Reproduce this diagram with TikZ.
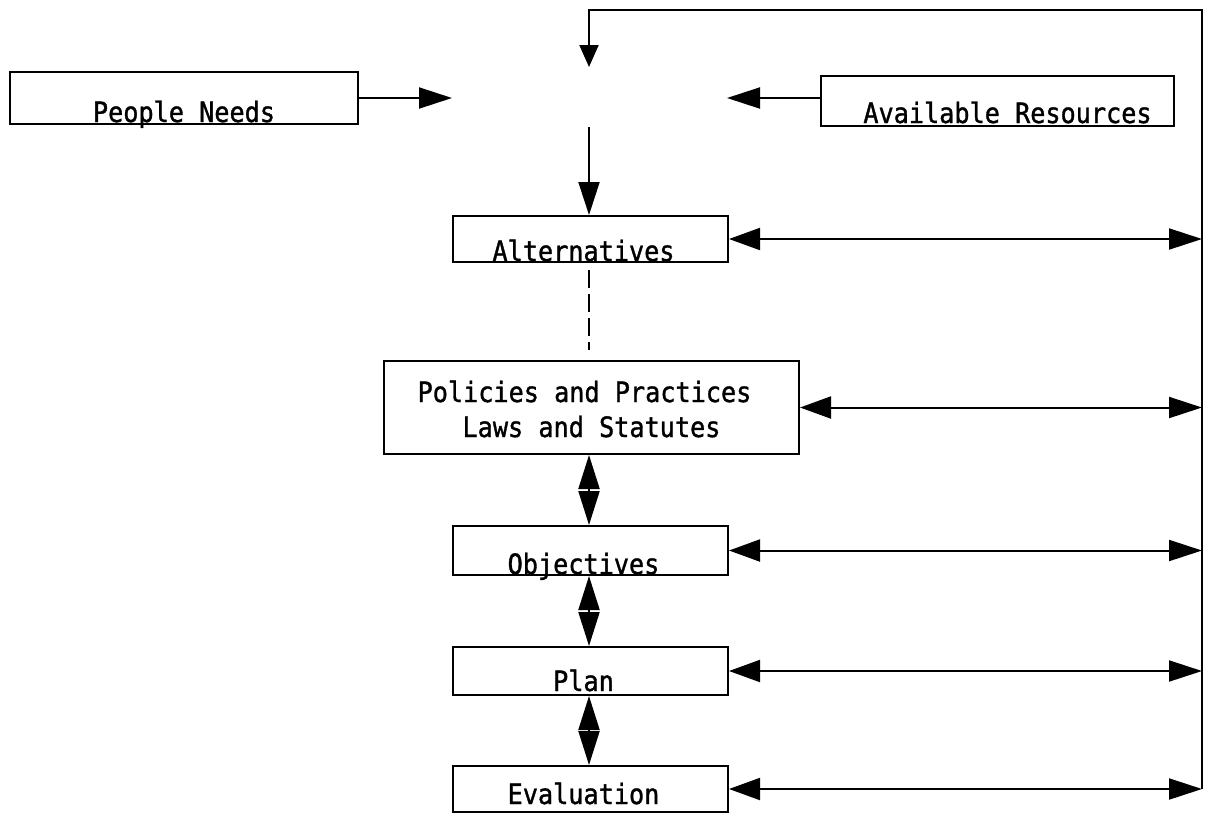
\documentclass[tikz,border=0pt]{standalone}
\usepackage{fontspec}
\newfontfamily\boxfont[FakeStretch=0.9,FakeBold=1.2]{DejaVu Sans Mono}
\usetikzlibrary{arrows.meta}
\begin{document}
\begin{tikzpicture}[x=1pt,y=-1pt,line width=2pt,
  box/.style={draw, inner sep=0pt, anchor=south west,
    font=\boxfont\fontsize{28}{35}\selectfont},
  bighead/.style={-{Triangle[length=33pt,width=21pt]}},
  smallhead/.style={-{Triangle[length=22pt,width=19pt]}},
  twohead/.style={{Triangle[length=31pt,width=22pt]}-{Triangle[length=33pt,width=21pt]}},
  vtwohead/.style={{Triangle[length=34pt,width=21pt]}-{Triangle[length=34pt,width=21pt]}},
  dashline/.style={dash pattern=on 18pt off 6pt, line width=1.6pt}]
\useasboundingbox (0,0) rectangle (1206,814);

% boxes
\node[box, minimum width=348pt, text height=50pt, text depth=2pt] (pn) at (9,125) {People Needs};
\node[box, minimum width=353pt, text height=47pt, text depth=3pt] (ar) at (820,127) {\hspace*{20pt}Available Resources};
\node[box, minimum width=275pt, text height=45pt, text depth=1pt] (alt) at (452,263) {Alternatives\hspace*{14pt}};
\node[box, minimum width=415pt, minimum height=93pt, align=center, text height=76pt, text depth=17pt] (pol) at (383,455) {Policies and Practices\hspace*{14pt}\\Laws and Statutes};
\node[box, minimum width=275pt, text height=48pt, text depth=1pt] (obj) at (452,576) {Objectives\hspace*{14pt}};
\node[box, minimum width=275pt, text height=44pt, text depth=4pt] (plan) at (452,696) {Plan\hspace*{14pt}};
\node[box, minimum width=275pt, text height=38pt, text depth=8pt] (eval) at (452,813) {Evaluation\hspace*{14pt}};

% free ends around the (blank) hub
\coordinate (hubT) at (589,67);
\coordinate (hubL) at (452,98);
\coordinate (hubR) at (727,98);
\coordinate (hubB) at (589,127);
\coordinate (rtop) at (1202,10);

% inputs to hub
\draw[bighead] (pn.east |- hubL) -- (hubL);
\draw[bighead] (ar.west |- hubR) -- (hubR);
\draw[bighead] (hubB) -- (alt.north -| hubB);

% feedback loop
\draw[smallhead] (eval.east -| rtop) -- (rtop) -- (hubT |- rtop) -- (hubT);

% right-side double arrows
\draw[twohead] (alt.east) -- (alt.east -| rtop);
\draw[twohead] (pol.east) -- (pol.east -| rtop);
\draw[twohead] (obj.east) -- (obj.east -| rtop);
\draw[twohead] (plan.east) -- (plan.east -| rtop);
\draw[twohead] (eval.east) -- (eval.east -| rtop);

% central column
\draw[dashline, shorten <=7pt, shorten >=10pt] (alt.south -| hubB) -- (pol.north -| hubB);
\draw[vtwohead] (pol.south -| hubB) -- (obj.north -| hubB);
\draw[vtwohead] (obj.south -| hubB) -- (plan.north -| hubB);
\draw[vtwohead] (plan.south -| hubB) -- (eval.north -| hubB);
\end{tikzpicture}
\end{document}
